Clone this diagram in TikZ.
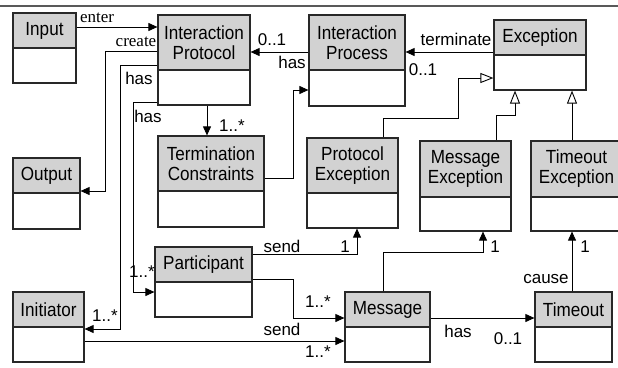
\documentclass[tikz,border=0pt]{standalone}
\usepackage{fontspec}
\setmainfont{Liberation Sans}
\newfontfamily\boxface{Liberation Sans}[FakeStretch=0.9]
\newfontfamily\serifface{Liberation Serif}
\usetikzlibrary{arrows.meta}
\definecolor{hdrfill}{RGB}{210,210,210}
\definecolor{edge}{RGB}{40,40,40}
% class box: name, x1, y1, x2, y of header bottom, y2, title
\newcommand\umlclass[7]{%
  \node[hdr, minimum width={#4-#2}, minimum height={#5-#3}] (#1) at ({(#2+#4)/2},{(#3+#5)/2}) {#7};
  \node[bdy, minimum width={#4-#2}, minimum height={#6-#5}] (#1-b) at ({(#2+#4)/2},{(#5+#6)/2}) {};
}
\begin{document}
\begin{tikzpicture}[x=1pt,y=-1pt,
  hdr/.style={draw=edge, line width=1.2pt, fill=hdrfill, inner sep=0pt, align=center,
    font=\boxface\fontsize{19}{20}\selectfont},
  bdy/.style={draw=edge, line width=1.2pt, fill=white, inner sep=0pt},
  conn/.style={draw=black, line width=0.9pt},
  arr/.style={conn, -{Triangle[length=9pt,width=8pt]}},
  gen/.style={conn, -{Triangle[length=13pt,width=10pt,fill=white]}},
  lbl/.style={inner sep=0pt, font=\fontsize{17}{19}\selectfont},
  slbl/.style={inner sep=0pt, font=\serifface\fontsize{17}{19}\selectfont}]
\fill[white] (0,0) rectangle (618,367);
\clip (0,0) rectangle (618,367);
\draw[line width=1.5pt, draw=black!65] (0,6) -- (618,6);

% classes
\umlclass{in}{13}{13}{76}{48}{83}{Input}
\umlclass{out}{13}{158}{80}{193}{229}{Output}
\umlclass{ini}{13}{292}{84}{327}{362}{Initiator}
\umlclass{ipr}{158}{15}{250}{70}{105}{Interaction\\Protocol}
\umlclass{tc}{158}{136}{264}{191}{227}{Termination\\Constraints}
\umlclass{par}{155}{247}{252}{282}{317}{Participant}
\umlclass{ips}{309}{15}{405}{70}{106}{Interaction\\Process}
\umlclass{pe}{307}{138}{398}{193}{228}{Protocol\\Exception}
\umlclass{msg}{345}{292}{430}{327}{362}{Message}
\umlclass{exc}{494}{20}{586}{55}{90}{Exception}
\umlclass{me}{420}{141}{511}{197}{231}{Message\\Exception}
\umlclass{te}{531}{141}{622}{197}{231}{Timeout\\Exception}
\umlclass{tmo}{535}{292}{612}{327}{362}{Timeout}

% associations
\draw[arr] (in.east |- 0,27) -- (ipr.west |- 0,27);
\draw[arr] (ipr.west |- 0,51) -| (105,191) -- (out.east |- 0,191);
\draw[arr] (ipr.west |- 0,65) -| (120,329) -- (ini.east |- 0,329);
\draw[arr] (ipr-b.west |- 0,102) -| (133,292) -- (par-b.west |- 0,292);
\draw[arr] (ipr-b.south -| 207,0) -- (tc.north -| 207,0);
\draw[arr] (tc.east |- 0,178) -| (293,90) -- (ips-b.west |- 0,90);
\draw[arr] (ips.west |- 0,52) -- (ipr.east |- 0,52);
\draw[arr] (exc.west |- 0,52) -- (ips.east |- 0,52);
\draw[arr] (par.east |- 0,254) -| (pe-b.south -| 357,0);
\draw[arr] (par.east |- 0,279) -| (293,318) -- (msg.west |- 0,318);
\draw[arr] (ini-b.east |- 0,341) -- (msg-b.west |- 0,341);
\draw[arr] (msg.north -| 383,0) |- (483,252) -- (me-b.south -| 483,0);
\draw[arr] (msg.east |- 0,318) -- (tmo.west |- 0,318);
\draw[arr] (tmo.north -| 572,0) -- (te-b.south -| 572,0);

% generalizations
\draw[gen] (pe.north -| 383,0) |- (458,118) |- (exc-b.west |- 0,78);
\draw[gen] (me.north -| 496,0) |- (515,115) -- (exc-b.south -| 515,0);
\draw[gen] (te.north -| 572,0) -- (exc-b.south -| 572,0);

% labels
\node[slbl] (l-enter) at (97,18) {enter};
\node[slbl] (l-create) at (136,42) {create};
\node[lbl] (l-has1) at (139,78) {has};
\node[lbl] (l-m1) at (105,316) {1..*};
\node[lbl] (l-has2) at (148,116) {has};
\node[lbl] (l-m2) at (142,272) {1..*};
\node[lbl] (l-m3) at (232,126) {1..*};
\node[lbl] (l-o1) at (272,40) {0..1};
\node[lbl] (l-has3) at (292,62) {has};
\node[lbl] (l-term) at (456,39) {terminate};
\node[lbl] (l-o2) at (423,70) {0..1};
\node[lbl] (l-send1) at (282,246) {send};
\node[lbl] (l-one1) at (345,247) {1};
\node[lbl] (l-m4) at (318,302) {1..*};
\node[lbl] (l-send2) at (282,329) {send};
\node[lbl] (l-m5) at (318,352) {1..*};
\node[lbl] (l-one2) at (495,247) {1};
\node[lbl] (l-has4) at (458,331) {has};
\node[lbl] (l-o3) at (508,339) {0..1};
\node[lbl] (l-cause) at (546,279) {cause};
\node[lbl] (l-one3) at (585,247) {1};
\end{tikzpicture}
\end{document}
